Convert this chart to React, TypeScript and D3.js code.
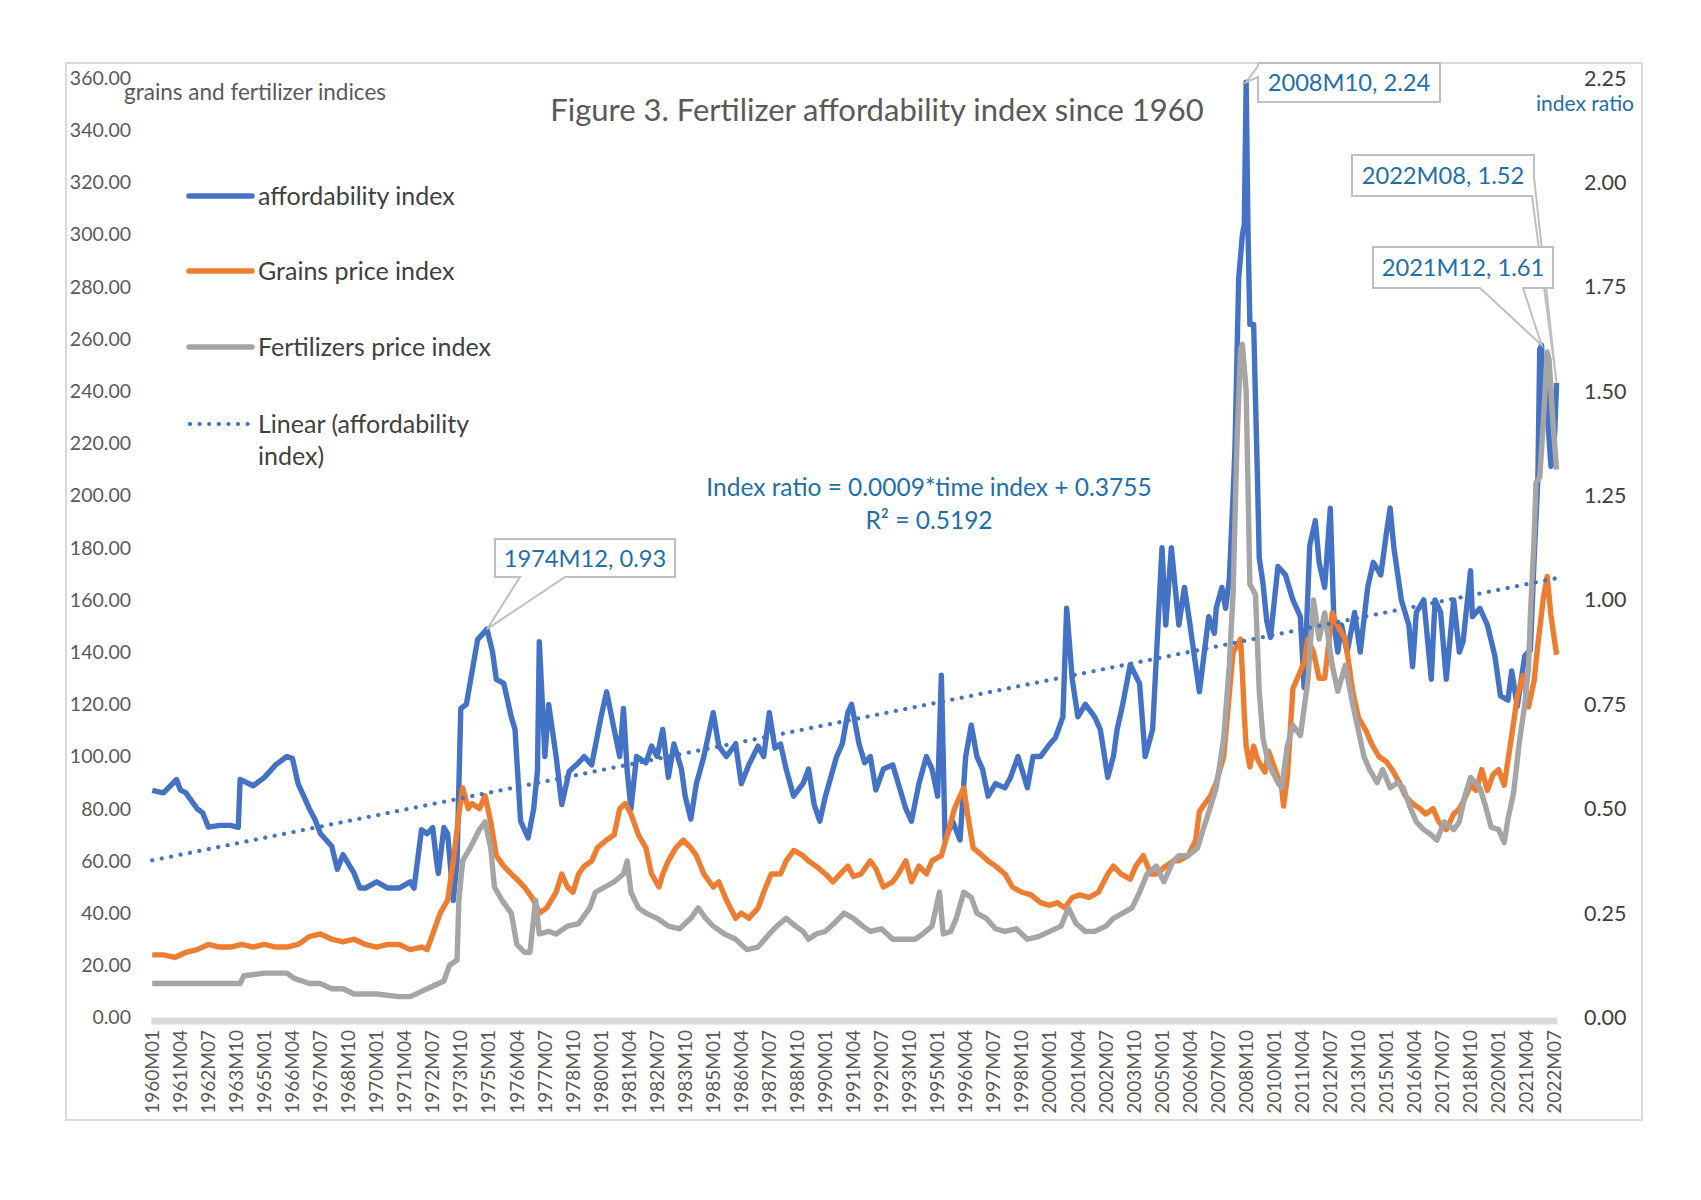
import React from "react";
import * as d3 from "d3";

// ---------- DATA ----------
const monthCount = 752; // 1960M01 .. 2022M08
const tickEvery = 15;

// affordability index (ratio, right axis)
const affordability: [string, number][] = [
  ["1960M01",0.544],["1960M07",0.538],["1961M02",0.57],["1961M04",0.545],["1961M07",0.538],["1962M01",0.50],["1962M04",0.49],["1962M07",0.456],["1963M01",0.46],["1963M07",0.46],["1963M11",0.455],["1963M12",0.57],["1964M07",0.555],["1965M01",0.575],["1965M07",0.605],["1966M01",0.625],["1966M04",0.62],["1966M07",0.56],["1967M01",0.50],["1967M04",0.475],["1967M07",0.44],["1968M01",0.41],["1968M04",0.355],["1968M07",0.39],["1969M01",0.345],["1969M04",0.31],["1969M07",0.31],["1970M01",0.325],["1970M07",0.31],["1971M01",0.31],["1971M07",0.325],["1971M09",0.31],
  ["1972M01",0.45],["1972M04",0.44],["1972M07",0.455],["1972M09",0.375],["1972M10",0.345],["1973M01",0.455],["1973M03",0.44],["1973M06",0.28],["1973M08",0.375],["1973M10",0.74],["1974M01",0.75],["1974M07",0.905],["1974M12",0.93],["1975M03",0.875],["1975M05",0.81],["1975M09",0.80],["1976M01",0.72],["1976M03",0.69],["1976M06",0.47],["1976M10",0.43],["1977M01",0.50],["1977M03",0.59],["1977M04",0.90],["1977M07",0.625],["1977M09",0.75],["1978M01",0.625],["1978M04",0.51],["1978M08",0.59],["1979M01",0.61],["1979M04",0.625],["1979M08",0.605],
  ["1980M01",0.72],["1980M04",0.78],["1980M08",0.69],["1980M11",0.625],["1981M01",0.74],["1981M03",0.59],["1981M05",0.50],["1981M08",0.625],["1982M01",0.61],["1982M04",0.65],["1982M07",0.625],["1982M10",0.69],["1983M01",0.575],["1983M04",0.655],["1983M08",0.595],["1983M10",0.53],["1984M01",0.475],["1984M04",0.56],["1984M08",0.625],["1985M01",0.73],["1985M04",0.65],["1985M08",0.625],["1986M01",0.655],["1986M04",0.56],["1986M08",0.605],["1987M01",0.65],["1987M04",0.625],["1987M07",0.73],["1987M10",0.645],["1988M01",0.655],["1988M04",0.595],["1988M08",0.53],["1989M01",0.56],["1989M04",0.595],["1989M07",0.51],["1989M10",0.47],
  ["1990M01",0.53],["1990M07",0.625],["1990M10",0.655],["1991M01",0.73],["1991M03",0.75],["1991M07",0.655],["1991M10",0.61],["1992M01",0.625],["1992M04",0.545],["1992M08",0.595],["1993M01",0.605],["1993M04",0.56],["1993M08",0.50],["1993M11",0.47],["1994M03",0.56],["1994M07",0.625],["1994M10",0.595],["1995M01",0.53],["1995M03",0.82],["1995M05",0.425],["1995M09",0.47],["1996M01",0.425],["1996M04",0.625],["1996M07",0.70],["1996M10",0.625],["1997M01",0.595],["1997M04",0.53],["1997M08",0.56],["1998M01",0.55],["1998M04",0.575],["1998M08",0.625],["1999M01",0.55],["1999M04",0.625],["1999M08",0.625],
  ["2000M01",0.655],["2000M04",0.67],["2000M08",0.72],["2000M10",0.98],["2001M01",0.81],["2001M04",0.72],["2001M08",0.75],["2002M01",0.72],["2002M04",0.69],["2002M08",0.575],["2002M11",0.625],["2003M01",0.69],["2003M04",0.75],["2003M08",0.845],["2004M01",0.80],["2004M04",0.625],["2004M08",0.69],["2005M01",1.125],["2005M03",0.94],["2005M06",1.125],["2005M10",0.94],["2006M01",1.03],["2006M04",0.94],["2006M06",0.875],["2006M09",0.78],["2007M02",0.96],["2007M05",0.92],["2007M06",0.98],["2007M09",1.03],["2007M11",0.98],
  ["2008M01",1.05],["2008M03",1.25],["2008M04",1.36],["2008M06",1.77],["2008M08",1.875],["2008M09",1.9],["2008M10",2.24],["2008M11",1.88],["2008M12",1.66],["2009M02",1.66],["2009M03",1.48],["2009M04",1.3],["2009M05",1.1],["2009M07",1.04],["2009M09",0.95],["2009M11",0.91],["2010M03",1.08],["2010M07",1.06],["2010M11",1.0],["2011M03",0.96],["2011M05",0.79],["2011M08",1.13],["2011M11",1.19],["2012M01",1.09],["2012M04",1.03],["2012M07",1.22],["2012M09",0.94],["2012M11",0.875],["2013M01",0.94],["2013M04",0.875],["2013M08",0.97],["2013M11",0.875],["2014M03",1.03],["2014M06",1.09],["2014M10",1.06],["2015M01",1.16],["2015M03",1.22],["2015M05",1.125],["2015M09",1.0],["2016M01",0.94],["2016M03",0.84],["2016M05",0.97],["2016M09",1.0],["2017M01",0.81],["2017M03",1.0],["2017M06",0.97],["2017M09",0.81],["2018M01",1.0],["2018M04",0.875],["2018M06",0.90],["2018M10",1.07],["2018M11",0.96],
  ["2019M03",0.98],["2019M07",0.94],["2019M11",0.866],["2020M02",0.77],["2020M06",0.76],["2020M08",0.83],["2020M11",0.745],["2021M03",0.866],["2021M06",0.88],["2021M08",1.10],["2021M10",1.29],["2021M11",1.60],["2021M12",1.61],["2022M01",1.45],["2022M02",1.56],["2022M03",1.45],["2022M05",1.32],["2022M06",1.34],["2022M07",1.40],["2022M08",1.52]
];

// grains price index (left axis)
const grainsIndex: [string, number][] = [
  ["1960M01",24],["1960M07",24],["1961M01",23],["1961M07",25],["1962M01",26],["1962M07",28],["1963M01",27],["1963M07",27],["1964M01",28],["1964M07",27],["1965M01",28],["1965M07",27],["1966M01",27],["1966M07",28],["1967M01",31],["1967M07",32],["1968M01",30],["1968M07",29],["1969M01",30],["1969M07",28],["1970M01",27],["1970M07",28],["1971M01",28],["1971M07",26],["1972M01",27],["1972M04",26],["1972M07",32],["1972M11",40],["1973M03",45],["1973M06",60],["1973M09",78],["1973M11",88],["1974M02",80],["1974M04",82],["1974M08",80],["1974M11",85],["1975M02",75],["1975M05",62],["1975M09",58],["1976M01",55],["1976M04",53],["1976M08",50],["1977M01",45],["1977M04",40],["1977M08",42],["1978M01",48],["1978M04",55],["1978M07",50],["1978M10",48],["1979M01",55],["1979M04",58],["1979M08",60],["1979M11",65],
  ["1980M04",68],["1980M08",70],["1980M11",80],["1981M02",82],["1981M05",78],["1981M09",70],["1982M01",65],["1982M04",55],["1982M08",50],["1982M10",55],["1983M01",60],["1983M05",65],["1983M09",68],["1984M01",65],["1984M04",62],["1984M08",55],["1985M01",50],["1985M04",52],["1985M08",45],["1986M01",38],["1986M04",40],["1986M08",38],["1987M01",42],["1987M04",48],["1987M08",55],["1988M01",55],["1988M04",60],["1988M08",64],["1989M01",62],["1989M04",60],["1989M08",58],
  ["1990M01",55],["1990M05",52],["1990M09",55],["1991M01",58],["1991M04",54],["1991M08",55],["1992M01",60],["1992M04",57],["1992M08",50],["1993M01",52],["1993M04",55],["1993M08",60],["1993M11",52],["1994M03",58],["1994M07",55],["1994M10",60],["1995M03",62],["1995M07",72],["1995M10",80],["1996M03",88],["1996M05",78],["1996M08",65],["1997M01",62],["1997M04",60],["1997M08",58],["1998M01",55],["1998M05",50],["1998M10",48],["1999M03",47],["1999M08",44],
  ["2000M01",43],["2000M05",44],["2000M09",42],["2001M01",46],["2001M05",47],["2001M10",46],["2002M03",48],["2002M08",55],["2002M11",58],["2003M03",55],["2003M08",53],["2003M11",58],["2004M03",62],["2004M07",55],["2004M10",55],["2005M03",58],["2005M07",60],["2005M10",60],["2006M03",62],["2006M07",68],["2006M09",79],["2007M03",85],["2007M06",90],["2007M10",100],["2008M03",140],["2008M07",145],["2008M08",132],["2008M09",116],["2008M10",104],["2008M12",96],["2009M02",104],["2009M04",99],["2009M08",94],["2009M10",102],
  ["2010M02",94],["2010M05",88],["2010M06",81],["2010M08",92],["2010M11",126],["2011M05",136],["2011M07",145],["2011M10",140],["2012M01",130],["2012M04",130],["2012M08",155],["2012M11",150],["2013M03",145],["2013M07",125],["2013M10",115],["2014M02",110],["2014M05",105],["2014M09",100],["2015M01",98],["2015M04",95],["2015M08",90],["2015M11",85],["2016M03",82],["2016M07",80],["2016M10",78],["2017M02",80],["2017M05",75],["2017M09",72],["2018M01",78],["2018M04",80],["2018M07",84],["2018M10",89],
  ["2019M01",87],["2019M04",95],["2019M07",87],["2019M10",93],["2020M01",95],["2020M04",89],["2020M08",108],["2020M11",123],["2021M02",131],["2021M05",119],["2021M08",129],["2021M10",143],["2022M01",161],["2022M03",169],["2022M05",154],["2022M08",139]
];

// fertilizers price index (left axis)
const fertilizerIndex: [string, number][] = [
  ["1960M01",13],["1963M12",13],["1964M02",16],["1965M01",17],["1966M01",17],["1966M05",15],["1967M01",13],["1967M07",13],["1968M01",11],["1968M07",11],["1969M01",9],["1970M01",9],["1971M01",8],["1971M07",8],["1972M01",10],["1972M07",12],["1973M01",14],["1973M04",20],["1973M08",22],["1973M09",45],["1973M11",60],["1974M03",65],["1974M08",72],["1974M11",75],["1975M02",65],["1975M04",50],["1975M08",45],["1976M01",40],["1976M04",28],["1976M08",25],["1976M11",25],["1977M02",45],["1977M04",32],["1977M09",33],["1978M01",32],["1978M07",35],["1979M01",36],["1979M07",42],["1979M10",48],
  ["1980M03",50],["1980M08",52],["1981M01",55],["1981M03",60],["1981M05",48],["1981M09",42],["1982M01",40],["1982M07",38],["1983M01",35],["1983M07",34],["1984M01",38],["1984M05",42],["1984M09",38],["1985M01",35],["1985M07",32],["1986M01",30],["1986M07",26],["1987M01",27],["1987M07",32],["1987M11",35],["1988M04",38],["1988M09",35],["1989M01",33],["1989M04",30],["1989M08",32],
  ["1990M01",33],["1990M07",37],["1990M11",40],["1991M04",38],["1991M09",35],["1992M01",33],["1992M07",34],["1993M01",30],["1993M07",30],["1994M01",30],["1994M05",32],["1994M10",35],["1995M02",48],["1995M04",32],["1995M08",33],["1995M11",38],["1996M03",48],["1996M07",46],["1996M10",40],["1997M03",38],["1997M08",34],["1998M01",33],["1998M07",34],["1999M01",30],["1999M07",31],
  ["2000M01",33],["2000M07",35],["2000M11",42],["2001M03",36],["2001M08",33],["2002M01",33],["2002M07",35],["2002M11",38],["2003M04",40],["2003M09",42],["2004M01",48],["2004M05",55],["2004M10",58],["2005M02",52],["2005M07",60],["2005M10",62],["2006M03",62],["2006M08",65],["2006M11",72],["2007M03",81],["2007M06",88],["2007M10",107],["2008M01",135],["2008M03",162],["2008M05",218],["2008M07",256],["2008M08",258],["2008M10",240],["2008M12",166],["2009M03",162],["2009M05",125],["2009M07",107],["2009M10",97],
  ["2010M03",90],["2010M05",88],["2010M08",104],["2010M11",112],["2011M03",108],["2011M07",129],["2011M10",160],["2012M01",145],["2012M04",155],["2012M08",135],["2012M11",125],["2013M03",135],["2013M07",120],["2013M10",110],["2014M01",100],["2014M04",95],["2014M08",90],["2014M11",95],["2015M03",88],["2015M07",90],["2015M10",88],["2016M02",80],["2016M05",75],["2016M09",72],["2017M01",70],["2017M04",68],["2017M08",75],["2018M01",72],["2018M04",75],["2018M07",85],["2018M10",92],
  ["2019M03",88],["2019M06",81],["2019M09",73],["2020M01",72],["2020M04",67],["2020M06",76],["2020M09",86],["2020M12",105],["2021M03",120],["2021M05",134],["2021M06",154],["2021M08",184],["2021M09",205],["2021M11",207],["2022M01",229],["2022M03",255],["2022M04",252],["2022M06",229],["2022M08",210]
];

const leftTicks = [0,20,40,60,80,100,120,140,160,180,200,220,240,260,280,300,320,340,360];
const rightTicks = [0,0.25,0.5,0.75,1,1.25,1.5,1.75,2,2.25];
const trendSlope = 0.0009;
const trendIntercept = 0.3755;
const calloutPoints: [string, number][] = [["1974M12",0.93],["2008M10",2.24],["2022M08",1.52],["2021M12",1.61]];

const seriesNames = ["affordability index","Grains price index","Fertilizers price index"];
const titleText = "Figure 3. Fertilizer affordability index since 1960";

// ---------- helpers ----------
const monthLabel = (i: number) => {
  const y = 1960 + Math.floor(i / 12);
  const m = (i % 12) + 1;
  return `${y}M${m < 10 ? "0" + m : m}`;
};
const months = d3.range(monthCount).map(monthLabel);

const BLUE = "#4472C4";
const ORANGE = "#ED7D31";
const GREY = "#A5A5A5";
const TEXT_BLUE = "#1F6FA8";
const FONT = "Lato, 'Open Sans', sans-serif";
const LW = 5.4;

export default function App() {
  const x = d3.scaleBand<string>().domain(months).range([151.3, 1557.5]);
  const cx = (lab: string) => (x(lab) as number) + x.bandwidth() / 2;
  const yL = d3.scaleLinear().domain([0, 360]).range([1017.5, 78]);
  const yR = d3.scaleLinear().domain([0, 2.25]).range([1017.5, 78]);

  const lineL = d3.line<[string, number]>().x(d => cx(d[0])).y(d => yL(d[1]));
  const lineR = d3.line<[string, number]>().x(d => cx(d[0])).y(d => yR(d[1]));

  const trendPts: [string, number][] = [
    [months[0], trendSlope * 1 + trendIntercept],
    [months[monthCount - 1], trendSlope * monthCount + trendIntercept],
  ];

  const xTicks = months.filter((_, i) => i % tickEvery === 0);

  const pt = (i: number) => ({ x: cx(calloutPoints[i][0]), y: yR(calloutPoints[i][1]) });
  const p0 = pt(0), p1 = pt(1), p2 = pt(2), p3 = pt(3);

  const box0 = { l: 495, t: 539, r: 675, b: 577 };
  const path0 = `M${box0.l},${box0.t}H${box0.r}V${box0.b}H565L${p0.x},${p0.y}L520,${box0.b}H${box0.l}Z`;
  const box1 = { l: 1258, t: 63, r: 1440, b: 102 };
  const path1 = `M${box1.l},${box1.t}H${box1.r}V${box1.b}H${box1.l}V77L${p1.x},${p1.y}L${box1.l},66Z`;
  const box2 = { l: 1352, t: 155, r: 1534, b: 196 };
  const path2 = `M${box2.l},${box2.t}H${box2.r}V177L${p2.x},${p2.y}L${box2.r - 2},${box2.b}H${box2.l}Z`;
  const box3 = { l: 1373, t: 247, r: 1553, b: 288 };
  const path3 = `M${box3.l},${box3.t}H${box3.r}V${box3.b}H1523L${p3.x},${p3.y}L1480,${box3.b}H${box3.l}Z`;

  const callouts = [
    { path: path0, box: box0 },
    { path: path1, box: box1 },
    { path: path2, box: box2 },
    { path: path3, box: box3 },
  ];

  const legendY = [196, 271, 347, 424];
  const legendColors = [BLUE, ORANGE, GREY];

  return (
    <svg width={1701} height={1200} style={{ position: "absolute", left: 0, top: 0, background: "#fff" }} fontFamily={FONT}>
      <rect x={0} y={0} width={1701} height={1200} fill="#fff" />
      <rect x={66} y={63} width={1576} height={1057} fill="none" stroke="#D9D9D9" strokeWidth={2} />

      <text x={877} y={121} textAnchor="middle" fontSize={31} fill="#595959">{titleText}</text>
      <text x={124} y={100} fontSize={22.5} fill="#595959">grains and fertilizer indices</text>
      <text x={1634} y={111} textAnchor="end" fontSize={21} fill={TEXT_BLUE}>index ratio</text>

      {leftTicks.map(v => (
        <text key={"l" + v} x={131} y={yL(v)} dy="0.35em" textAnchor="end" fontSize={19.5} fill="#595959">{v.toFixed(2)}</text>
      ))}
      {rightTicks.map(v => (
        <text key={"r" + v} x={1584} y={yR(v)} dy="0.35em" textAnchor="start" fontSize={21.5} fill="#404040">{v.toFixed(2)}</text>
      ))}

      <line x1={151.3} x2={1557.5} y1={1021} y2={1021} stroke="#D9D9D9" strokeWidth={7} />
      {xTicks.map(lab => (
        <text key={lab} transform={`translate(${cx(lab)},1030) rotate(-90)`} dy="0.35em" textAnchor="end" fontSize={19} fill="#595959">{lab}</text>
      ))}

      <path d={lineR(affordability) as string} fill="none" stroke={BLUE} strokeWidth={LW} strokeLinejoin="round" />
      <path d={lineL(grainsIndex) as string} fill="none" stroke={ORANGE} strokeWidth={LW} strokeLinejoin="round" />
      <path d={lineL(fertilizerIndex) as string} fill="none" stroke={GREY} strokeWidth={LW} strokeLinejoin="round" />
      <path d={lineR(trendPts) as string} fill="none" stroke={BLUE} strokeWidth={4.2} strokeDasharray="0.1 9.5" strokeLinecap="round" />

      {legendColors.map((c, i) => (
        <line key={"lg" + i} x1={189} x2={252} y1={legendY[i]} y2={legendY[i]} stroke={c} strokeWidth={5.5} strokeLinecap="round" />
      ))}
      <line x1={190} x2={252} y1={legendY[3]} y2={legendY[3]} stroke={BLUE} strokeWidth={4.2} strokeDasharray="0.1 9.5" strokeLinecap="round" />
      {seriesNames.map((n, i) => (
        <text key={"lt" + i} x={258} y={legendY[i]} dy="0.35em" fontSize={25} fill="#404040">{n}</text>
      ))}
      <text x={258} y={legendY[3]} dy="0.35em" fontSize={25} fill="#404040">Linear (affordability</text>
      <text x={258} y={legendY[3] + 32} dy="0.35em" fontSize={25} fill="#404040">index)</text>

      <text x={929} y={496} textAnchor="middle" fontSize={24.5} fill={TEXT_BLUE}>Index ratio = 0.0009*time index + 0.3755</text>
      <text x={929} y={529} textAnchor="middle" fontSize={24.5} fill={TEXT_BLUE}>R² = 0.5192</text>

      {callouts.map((c, i) => (
        <g key={"c" + i}>
          <path d={c.path} fill="#fff" stroke="#BFBFBF" strokeWidth={2} />
          <text x={(c.box.l + c.box.r) / 2} y={(c.box.t + c.box.b) / 2} dy="0.36em" textAnchor="middle" fontSize={23.7} fill={TEXT_BLUE}>
            {`${calloutPoints[i][0]}, ${calloutPoints[i][1].toFixed(2)}`}
          </text>
        </g>
      ))}
    </svg>
  );
}
